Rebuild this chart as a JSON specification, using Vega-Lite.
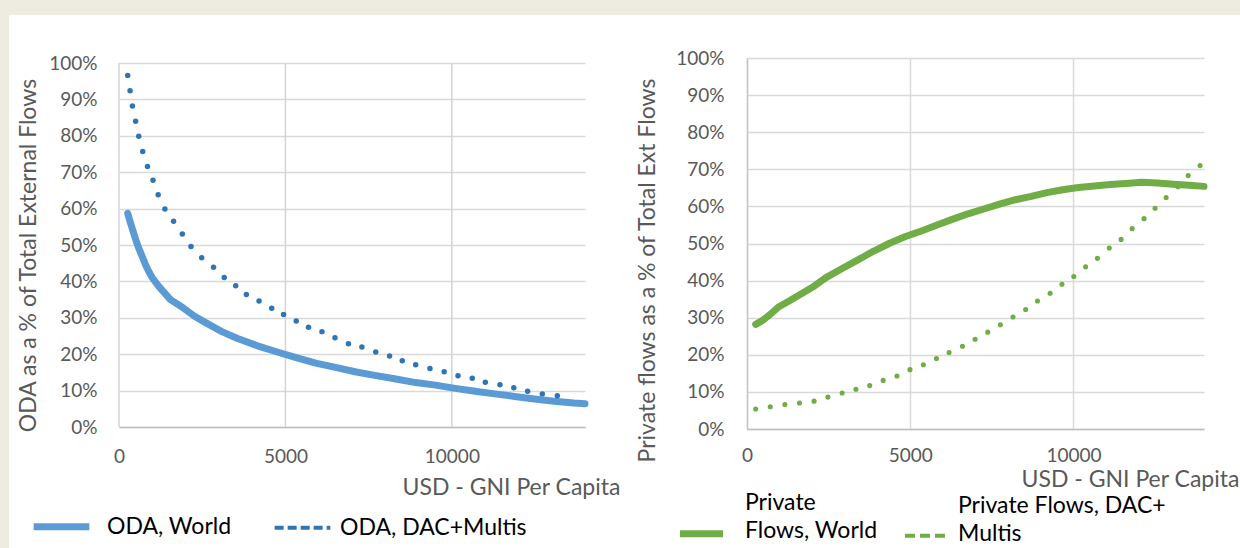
{
  "$schema": "https://vega.github.io/schema/vega-lite/v6.json",
  "padding": 0,
  "background": "white",
  "config": {"font": "Lato", "view": {"stroke": null}},
  "datasets": {
    "oda": [
      {"gni": 261, "share": 0.587, "series": "ODA, World"},
      {"gni": 330, "share": 0.565, "series": "ODA, World"},
      {"gni": 381, "share": 0.550, "series": "ODA, World"},
      {"gni": 450, "share": 0.530, "series": "ODA, World"},
      {"gni": 531, "share": 0.507, "series": "ODA, World"},
      {"gni": 620, "share": 0.485, "series": "ODA, World"},
      {"gni": 713, "share": 0.465, "series": "ODA, World"},
      {"gni": 800, "share": 0.445, "series": "ODA, World"},
      {"gni": 891, "share": 0.428, "series": "ODA, World"},
      {"gni": 1000, "share": 0.410, "series": "ODA, World"},
      {"gni": 1188, "share": 0.387, "series": "ODA, World"},
      {"gni": 1545, "share": 0.350, "series": "ODA, World"},
      {"gni": 1902, "share": 0.329, "series": "ODA, World"},
      {"gni": 2258, "share": 0.305, "series": "ODA, World"},
      {"gni": 2615, "share": 0.286, "series": "ODA, World"},
      {"gni": 3090, "share": 0.262, "series": "ODA, World"},
      {"gni": 3565, "share": 0.243, "series": "ODA, World"},
      {"gni": 4160, "share": 0.223, "series": "ODA, World"},
      {"gni": 4754, "share": 0.206, "series": "ODA, World"},
      {"gni": 5348, "share": 0.190, "series": "ODA, World"},
      {"gni": 5942, "share": 0.175, "series": "ODA, World"},
      {"gni": 6537, "share": 0.163, "series": "ODA, World"},
      {"gni": 7131, "share": 0.151, "series": "ODA, World"},
      {"gni": 7725, "share": 0.141, "series": "ODA, World"},
      {"gni": 8319, "share": 0.132, "series": "ODA, World"},
      {"gni": 8913, "share": 0.122, "series": "ODA, World"},
      {"gni": 9508, "share": 0.115, "series": "ODA, World"},
      {"gni": 10102, "share": 0.106, "series": "ODA, World"},
      {"gni": 10696, "share": 0.098, "series": "ODA, World"},
      {"gni": 11290, "share": 0.091, "series": "ODA, World"},
      {"gni": 11885, "share": 0.084, "series": "ODA, World"},
      {"gni": 12479, "share": 0.077, "series": "ODA, World"},
      {"gni": 13073, "share": 0.071, "series": "ODA, World"},
      {"gni": 13667, "share": 0.066, "series": "ODA, World"},
      {"gni": 14000, "share": 0.064, "series": "ODA, World"},
      {"gni": 261, "share": 0.966, "series": "ODA, DAC+Multis"},
      {"gni": 333, "share": 0.924, "series": "ODA, DAC+Multis"},
      {"gni": 404, "share": 0.882, "series": "ODA, DAC+Multis"},
      {"gni": 499, "share": 0.840, "series": "ODA, DAC+Multis"},
      {"gni": 594, "share": 0.799, "series": "ODA, DAC+Multis"},
      {"gni": 713, "share": 0.757, "series": "ODA, DAC+Multis"},
      {"gni": 856, "share": 0.716, "series": "ODA, DAC+Multis"},
      {"gni": 1022, "share": 0.678, "series": "ODA, DAC+Multis"},
      {"gni": 1177, "share": 0.638, "series": "ODA, DAC+Multis"},
      {"gni": 1379, "share": 0.599, "series": "ODA, DAC+Multis"},
      {"gni": 1640, "share": 0.565, "series": "ODA, DAC+Multis"},
      {"gni": 1902, "share": 0.530, "series": "ODA, DAC+Multis"},
      {"gni": 2163, "share": 0.496, "series": "ODA, DAC+Multis"},
      {"gni": 2484, "share": 0.465, "series": "ODA, DAC+Multis"},
      {"gni": 2840, "share": 0.439, "series": "ODA, DAC+Multis"},
      {"gni": 3161, "share": 0.411, "series": "ODA, DAC+Multis"},
      {"gni": 3506, "share": 0.388, "series": "ODA, DAC+Multis"},
      {"gni": 3827, "share": 0.364, "series": "ODA, DAC+Multis"},
      {"gni": 4207, "share": 0.346, "series": "ODA, DAC+Multis"},
      {"gni": 4588, "share": 0.326, "series": "ODA, DAC+Multis"},
      {"gni": 4944, "share": 0.309, "series": "ODA, DAC+Multis"},
      {"gni": 5324, "share": 0.291, "series": "ODA, DAC+Multis"},
      {"gni": 5693, "share": 0.274, "series": "ODA, DAC+Multis"},
      {"gni": 6097, "share": 0.262, "series": "ODA, DAC+Multis"},
      {"gni": 6489, "share": 0.245, "series": "ODA, DAC+Multis"},
      {"gni": 6893, "share": 0.229, "series": "ODA, DAC+Multis"},
      {"gni": 7297, "share": 0.220, "series": "ODA, DAC+Multis"},
      {"gni": 7713, "share": 0.206, "series": "ODA, DAC+Multis"},
      {"gni": 8129, "share": 0.195, "series": "ODA, DAC+Multis"},
      {"gni": 8510, "share": 0.182, "series": "ODA, DAC+Multis"},
      {"gni": 8914, "share": 0.171, "series": "ODA, DAC+Multis"},
      {"gni": 9342, "share": 0.161, "series": "ODA, DAC+Multis"},
      {"gni": 9770, "share": 0.152, "series": "ODA, DAC+Multis"},
      {"gni": 10185, "share": 0.141, "series": "ODA, DAC+Multis"},
      {"gni": 10613, "share": 0.134, "series": "ODA, DAC+Multis"},
      {"gni": 11006, "share": 0.123, "series": "ODA, DAC+Multis"},
      {"gni": 11445, "share": 0.116, "series": "ODA, DAC+Multis"},
      {"gni": 11861, "share": 0.108, "series": "ODA, DAC+Multis"},
      {"gni": 12277, "share": 0.098, "series": "ODA, DAC+Multis"},
      {"gni": 12717, "share": 0.091, "series": "ODA, DAC+Multis"},
      {"gni": 13168, "share": 0.086, "series": "ODA, DAC+Multis"}
    ],
    "private": [
      {"gni": 266, "share": 0.282, "series": "Private Flows, World"},
      {"gni": 484, "share": 0.293, "series": "Private Flows, World"},
      {"gni": 725, "share": 0.310, "series": "Private Flows, World"},
      {"gni": 967, "share": 0.329, "series": "Private Flows, World"},
      {"gni": 1330, "share": 0.347, "series": "Private Flows, World"},
      {"gni": 1693, "share": 0.366, "series": "Private Flows, World"},
      {"gni": 2055, "share": 0.385, "series": "Private Flows, World"},
      {"gni": 2418, "share": 0.408, "series": "Private Flows, World"},
      {"gni": 2902, "share": 0.432, "series": "Private Flows, World"},
      {"gni": 3385, "share": 0.455, "series": "Private Flows, World"},
      {"gni": 3869, "share": 0.479, "series": "Private Flows, World"},
      {"gni": 4352, "share": 0.500, "series": "Private Flows, World"},
      {"gni": 4836, "share": 0.518, "series": "Private Flows, World"},
      {"gni": 5320, "share": 0.533, "series": "Private Flows, World"},
      {"gni": 5803, "share": 0.549, "series": "Private Flows, World"},
      {"gni": 6287, "share": 0.565, "series": "Private Flows, World"},
      {"gni": 6770, "share": 0.580, "series": "Private Flows, World"},
      {"gni": 7254, "share": 0.593, "series": "Private Flows, World"},
      {"gni": 7738, "share": 0.606, "series": "Private Flows, World"},
      {"gni": 8221, "share": 0.618, "series": "Private Flows, World"},
      {"gni": 8705, "share": 0.627, "series": "Private Flows, World"},
      {"gni": 9188, "share": 0.637, "series": "Private Flows, World"},
      {"gni": 9672, "share": 0.645, "series": "Private Flows, World"},
      {"gni": 10156, "share": 0.651, "series": "Private Flows, World"},
      {"gni": 10639, "share": 0.655, "series": "Private Flows, World"},
      {"gni": 11123, "share": 0.659, "series": "Private Flows, World"},
      {"gni": 11606, "share": 0.662, "series": "Private Flows, World"},
      {"gni": 12090, "share": 0.665, "series": "Private Flows, World"},
      {"gni": 12574, "share": 0.663, "series": "Private Flows, World"},
      {"gni": 13057, "share": 0.660, "series": "Private Flows, World"},
      {"gni": 13541, "share": 0.657, "series": "Private Flows, World"},
      {"gni": 14000, "share": 0.654, "series": "Private Flows, World"},
      {"gni": 266, "share": 0.054, "series": "Private Flows, DAC+ Multis"},
      {"gni": 713, "share": 0.060, "series": "Private Flows, DAC+ Multis"},
      {"gni": 1161, "share": 0.066, "series": "Private Flows, DAC+ Multis"},
      {"gni": 1608, "share": 0.070, "series": "Private Flows, DAC+ Multis"},
      {"gni": 2055, "share": 0.075, "series": "Private Flows, DAC+ Multis"},
      {"gni": 2478, "share": 0.086, "series": "Private Flows, DAC+ Multis"},
      {"gni": 2914, "share": 0.097, "series": "Private Flows, DAC+ Multis"},
      {"gni": 3337, "share": 0.107, "series": "Private Flows, DAC+ Multis"},
      {"gni": 3760, "share": 0.117, "series": "Private Flows, DAC+ Multis"},
      {"gni": 4171, "share": 0.131, "series": "Private Flows, DAC+ Multis"},
      {"gni": 4594, "share": 0.143, "series": "Private Flows, DAC+ Multis"},
      {"gni": 4993, "share": 0.160, "series": "Private Flows, DAC+ Multis"},
      {"gni": 5404, "share": 0.173, "series": "Private Flows, DAC+ Multis"},
      {"gni": 5803, "share": 0.190, "series": "Private Flows, DAC+ Multis"},
      {"gni": 6190, "share": 0.206, "series": "Private Flows, DAC+ Multis"},
      {"gni": 6601, "share": 0.223, "series": "Private Flows, DAC+ Multis"},
      {"gni": 6988, "share": 0.242, "series": "Private Flows, DAC+ Multis"},
      {"gni": 7375, "share": 0.261, "series": "Private Flows, DAC+ Multis"},
      {"gni": 7762, "share": 0.281, "series": "Private Flows, DAC+ Multis"},
      {"gni": 8149, "share": 0.302, "series": "Private Flows, DAC+ Multis"},
      {"gni": 8536, "share": 0.322, "series": "Private Flows, DAC+ Multis"},
      {"gni": 8898, "share": 0.345, "series": "Private Flows, DAC+ Multis"},
      {"gni": 9285, "share": 0.366, "series": "Private Flows, DAC+ Multis"},
      {"gni": 9648, "share": 0.390, "series": "Private Flows, DAC+ Multis"},
      {"gni": 10011, "share": 0.411, "series": "Private Flows, DAC+ Multis"},
      {"gni": 10373, "share": 0.437, "series": "Private Flows, DAC+ Multis"},
      {"gni": 10736, "share": 0.460, "series": "Private Flows, DAC+ Multis"},
      {"gni": 11099, "share": 0.488, "series": "Private Flows, DAC+ Multis"},
      {"gni": 11461, "share": 0.511, "series": "Private Flows, DAC+ Multis"},
      {"gni": 11800, "share": 0.540, "series": "Private Flows, DAC+ Multis"},
      {"gni": 12163, "share": 0.567, "series": "Private Flows, DAC+ Multis"},
      {"gni": 12501, "share": 0.595, "series": "Private Flows, DAC+ Multis"},
      {"gni": 12840, "share": 0.624, "series": "Private Flows, DAC+ Multis"},
      {"gni": 13202, "share": 0.653, "series": "Private Flows, DAC+ Multis"},
      {"gni": 13516, "share": 0.683, "series": "Private Flows, DAC+ Multis"},
      {"gni": 13879, "share": 0.710, "series": "Private Flows, DAC+ Multis"}
    ],
    "vgrid": [
      {"gni": 0},
      {"gni": 5000},
      {"gni": 10000}
    ]
  },
  "bounds": "flush",
  "spacing": 0,
  "columns": 3,
  "resolve": {
    "scale": {"x": "independent", "y": "independent", "color": "independent"},
    "axis": {"x": "independent", "y": "independent"},
    "legend": {"color": "independent"}
  },
  "concat": [
    {"width": 119, "height": 15, "data": {"values": [{}]}, "view": {"fill": "#EEEBE0"}, "mark": {"type": "rect", "color": "#EEEBE0"}},
    {"width": 628, "height": 15, "data": {"values": [{}]}, "view": {"fill": "#EEEBE0"}, "mark": {"type": "rect", "color": "#EEEBE0"}},
    {"width": 493, "height": 15, "data": {"values": [{}]}, "view": {"fill": "#EEEBE0"}, "mark": {"type": "rect", "color": "#EEEBE0"}},
    {"width": 9, "height": 43, "data": {"values": [{}]}, "view": {"fill": "#EEEBE0"}, "mark": {"type": "rect", "color": "#EEEBE0"}},
    {"width": 1, "height": 1, "data": {"values": [{}]}, "mark": {"type": "rect", "opacity": 0}},
    {"width": 1, "height": 1, "data": {"values": [{}]}, "mark": {"type": "rect", "opacity": 0}},
    {"width": 9, "height": 371, "data": {"values": [{}]}, "view": {"fill": "#EEEBE0"}, "mark": {"type": "rect", "color": "#EEEBE0"}},
    {
      "width": 466,
      "height": 369,
      "encoding": {
        "x": {
          "field": "gni", "type": "quantitative",
          "scale": {"domain": [0, 14000], "nice": false, "zero": false},
          "axis": {
            "values": [0, 5000, 10000], "tickCount": 20, "format": "d", "grid": false, "ticks": false, "tickSize": 0,
            "domain": true, "domainColor": "#BFBFBF", "domainWidth": 1.5,
            "labelFlush": false, "labelOverlap": false, "labelBound": false,
            "labelPadding": 20, "labelFontSize": 19, "labelColor": "#595959",
            "title": "USD - GNI Per Capita", "titleFontSize": 23, "titleFontWeight": "normal", "titleColor": "#595959",
            "titleX": 283, "titleY": 60, "titleAlign": "left", "titleBaseline": "middle"
          }
        }
      },
      "layer": [
        {
          "data": {"name": "vgrid"},
          "mark": {"type": "rule", "strokeWidth": 1.5, "color": "#D3D3D3"},
          "encoding": {
            "y": {"datum": 0, "type": "quantitative", "scale": {"domain": [0, 1.01374], "nice": false}},
            "y2": {"datum": 1}
          }
        },
        {
          "data": {"name": "oda"},
          "transform": [{"filter": "datum.series === 'ODA, World'"}],
          "mark": {"type": "line", "strokeWidth": 7, "strokeCap": "round", "strokeJoin": "round"},
          "encoding": {
            "y": {
              "field": "share", "type": "quantitative",
              "scale": {"domain": [0, 1.01374], "nice": false},
              "axis": {
                "values": [0, 0.1, 0.2, 0.3, 0.4, 0.5, 0.6, 0.7, 0.8, 0.9, 1], "tickCount": 20, "format": ".0%",
                "grid": true, "gridColor": "#D9D9D9", "gridWidth": 1.5,
                "domain": false, "ticks": false, "tickSize": 0,
                "labelPadding": 22, "labelFontSize": 19, "labelColor": "#595959", "labelOverlap": false, "labelBound": false,
                "title": "ODA as a % of Total External Flows", "titleFontSize": 23, "titleFontWeight": "normal", "titleColor": "#595959",
                "titleX": -91, "titleY": 197, "titleAlign": "center", "titleBaseline": "middle", "titleAngle": -90
              }
            },
            "color": {
              "field": "series", "type": "nominal",
              "scale": {"domain": ["ODA, World", "ODA, DAC+Multis"], "range": ["#5B9BD5", "#2E75B6"]},
              "legend": {
                "title": null, "orient": "none", "legendX": -69, "legendY": 457, "direction": "horizontal",
                "symbolType": "stroke", "symbolSize": 3100, "symbolStrokeWidth": 7,
                "labelFontSize": 23, "labelColor": "#000000", "labelOffset": 34, "columnPadding": 34, "labelLimit": 400, "padding": 0,
                "encode": {
                  "symbols": {
                    "update": {
                      "strokeDash": {"signal": "datum.value === 'ODA, DAC+Multis' ? [9, 4] : [1, 0]"},
                      "strokeWidth": {"signal": "datum.value === 'ODA, DAC+Multis' ? 4 : 7"},
                      "strokeCap": {"value": "butt"},
                      "stroke": {"signal": "datum.value === 'ODA, DAC+Multis' ? '#4472C4' : '#5B9BD5'"},
                      "fill": {"value": "transparent"},
                      "opacity": {"value": 1}
                    }
                  },
                  "labels": {
                    "update": {
                      "dx": {"signal": "datum.value === 'ODA, World' ? 0 : -8"}
                    }
                  }
                }
              }
            }
          }
        },
        {
          "data": {"name": "oda"},
          "transform": [{"filter": "datum.series === 'ODA, DAC+Multis'"}],
          "mark": {"type": "circle", "size": 30, "opacity": 1},
          "encoding": {
            "y": {"field": "share", "type": "quantitative", "scale": {"domain": [0, 1.01374], "nice": false}},
            "color": {"field": "series", "type": "nominal", "scale": {"domain": ["ODA, World", "ODA, DAC+Multis"], "range": ["#5B9BD5", "#2E75B6"]}}
          }
        }
      ]
    },
    {
      "width": 457,
      "height": 371,
      "data": {"name": "private"},
      "layer": [
        {
          "transform": [{"filter": "datum.series === 'Private Flows, World'"}],
          "mark": {"type": "line", "strokeWidth": 7, "strokeCap": "round", "strokeJoin": "round"},
          "encoding": {
            "x": {
              "field": "gni", "type": "quantitative",
              "scale": {"domain": [0, 14000], "nice": false, "zero": false},
              "axis": {
                "values": [0, 5000, 10000], "tickCount": 20, "format": "d", "grid": true, "gridColor": "#D9D9D9", "gridWidth": 1.5, "ticks": false, "tickSize": 0,
                "domain": true, "domainColor": "#BFBFBF", "domainWidth": 1.5,
                "labelFlush": false, "labelOverlap": false, "labelBound": false,
                "labelPadding": 17, "labelFontSize": 19, "labelColor": "#595959",
                "title": "USD - GNI Per Capita", "titleFontSize": 23, "titleFontWeight": "normal", "titleColor": "#595959",
                "titleX": 274, "titleY": 50, "titleAlign": "left", "titleBaseline": "middle"
              }
            },
            "y": {
              "field": "share", "type": "quantitative",
              "scale": {"domain": [0, 1], "nice": false},
              "axis": {
                "values": [0, 0.1, 0.2, 0.3, 0.4, 0.5, 0.6, 0.7, 0.8, 0.9, 1], "tickCount": 20, "format": ".0%",
                "grid": true, "gridColor": "#D9D9D9", "gridWidth": 1.5,
                "domain": true, "domainColor": "#C8C8C8", "domainWidth": 1.5, "ticks": false, "tickSize": 0,
                "labelPadding": 23, "labelFontSize": 19, "labelColor": "#595959", "labelOverlap": false, "labelBound": false,
                "title": "Private flows as a % of Total Ext Flows", "titleFontSize": 23, "titleFontWeight": "normal", "titleColor": "#595959",
                "titleX": -100, "titleY": 212, "titleAlign": "center", "titleBaseline": "middle", "titleAngle": -90
              }
            },
            "color": {
              "field": "series", "type": "nominal",
              "scale": {"domain": ["Private Flows, World", "Private Flows, DAC+ Multis"], "range": ["#70AD47", "#70AD47"]},
              "legend": {
                "title": null, "orient": "none", "legendX": -57, "legendY": 464, "direction": "horizontal",
                "symbolType": "stroke", "symbolSize": 1850, "symbolStrokeWidth": 7,
                "labelFontSize": 23, "labelColor": "#000000", "labelOffset": 32, "columnPadding": 18, "labelLimit": 400, "padding": 0,
                "labelExpr": "datum.label === 'Private Flows, World' ? ['Private', 'Flows, World'] : ['Private Flows, DAC+', 'Multis']",
                "encode": {
                  "symbols": {
                    "update": {
                      "strokeDash": {"signal": "datum.value === 'Private Flows, DAC+ Multis' ? [10, 5] : [1, 0]"},
                      "strokeWidth": {"signal": "datum.value === 'Private Flows, DAC+ Multis' ? 4 : 7"},
                      "strokeCap": {"value": "butt"},
                      "stroke": {"value": "#70AD47"},
                      "fill": {"value": "transparent"},
                      "opacity": {"value": 1}
                    }
                  },
                  "labels": {
                    "update": {
                      "lineHeight": {"value": 28},
                      "dy": {"signal": "datum.value === 'Private Flows, World' ? -31 : -30"},
                      "dx": {"signal": "datum.value === 'Private Flows, World' ? 0 : -12"}
                    }
                  }
                }
              }
            }
          }
        },
        {
          "transform": [{"filter": "datum.series === 'Private Flows, DAC+ Multis'"}],
          "mark": {"type": "circle", "size": 26, "opacity": 1},
          "encoding": {
            "x": {"field": "gni", "type": "quantitative", "scale": {"domain": [0, 14000], "nice": false, "zero": false}},
            "y": {"field": "share", "type": "quantitative", "scale": {"domain": [0, 1], "nice": false}},
            "color": {"field": "series", "type": "nominal", "scale": {"domain": ["Private Flows, World", "Private Flows, DAC+ Multis"], "range": ["#70AD47", "#70AD47"]}}
          }
        }
      ]
    },
    {"width": 9, "height": 119, "data": {"values": [{}]}, "view": {"fill": "#EEEBE0"}, "mark": {"type": "rect", "color": "#EEEBE0"}},
    {"width": 1, "height": 1, "data": {"values": [{}]}, "mark": {"type": "rect", "opacity": 0}},
    {"width": 1, "height": 1, "data": {"values": [{}]}, "mark": {"type": "rect", "opacity": 0}}
  ]
}
